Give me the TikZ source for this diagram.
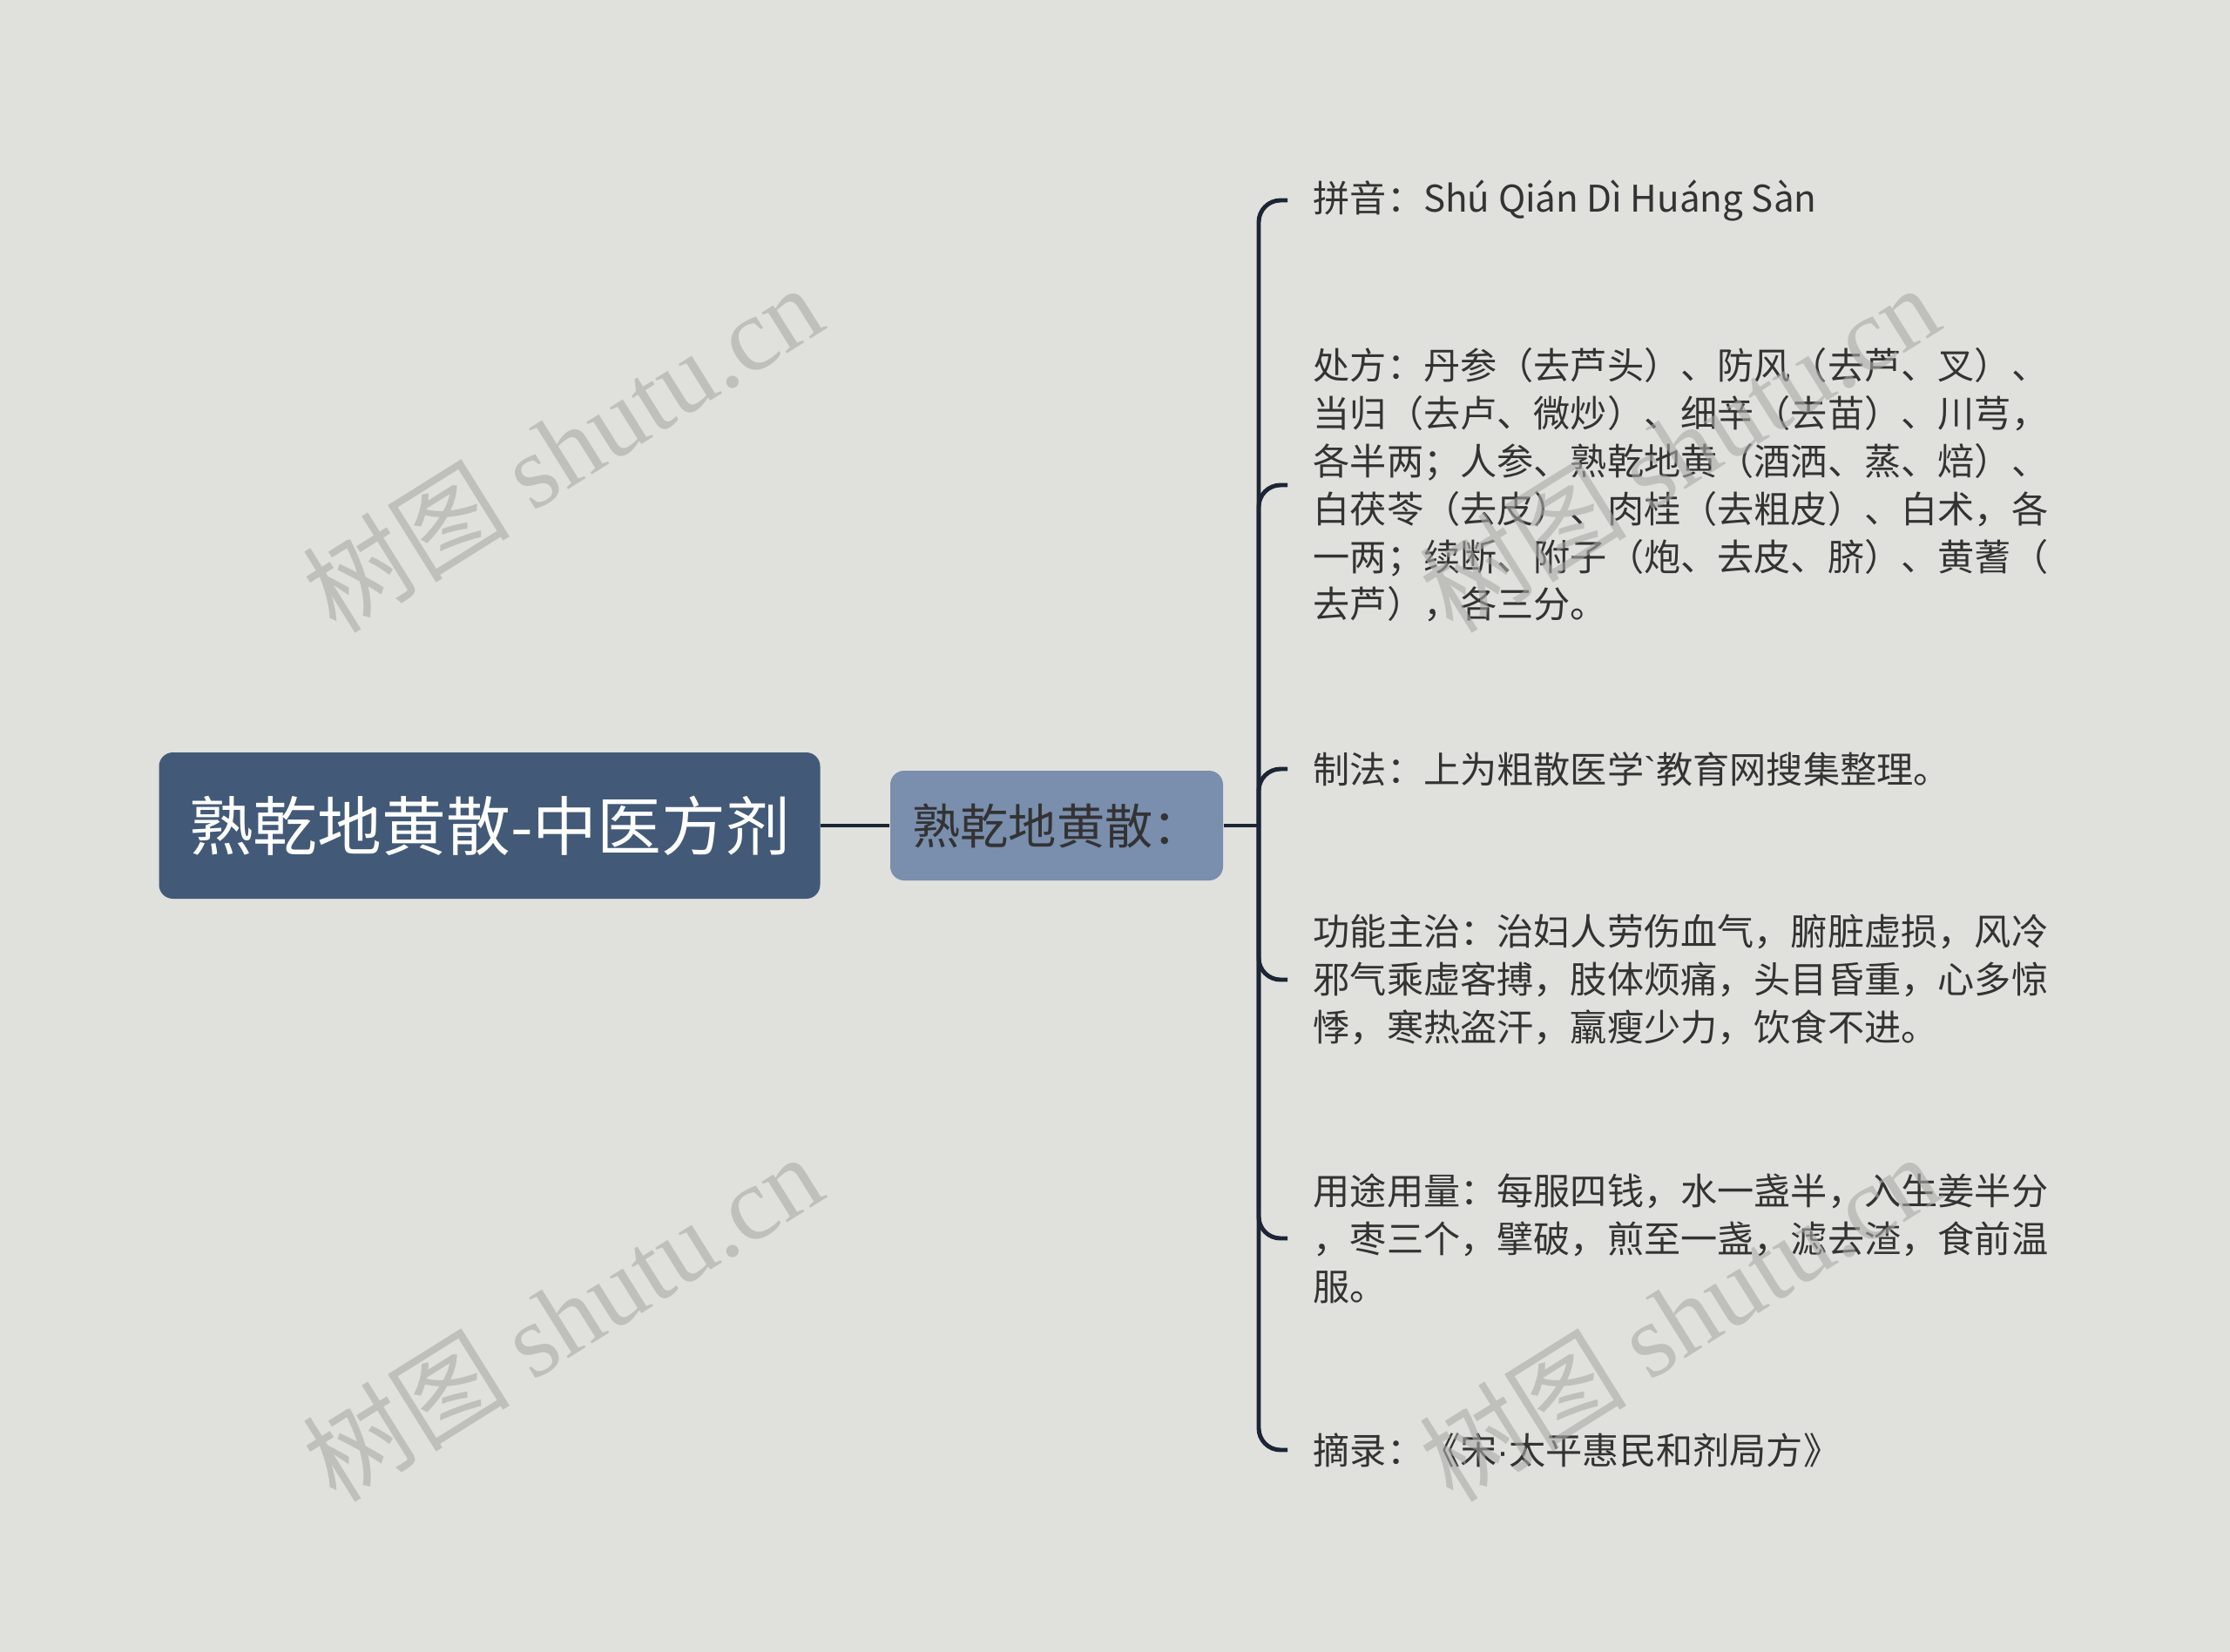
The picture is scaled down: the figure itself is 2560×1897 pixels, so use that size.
\documentclass[tikz,border=0pt]{standalone}
\usepackage{fontspec}
\setmainfont{Noto Sans CJK SC}
\newfontfamily\markfont{Liberation Serif}
\newfontfamily\latinfont{Liberation Sans}
\usetikzlibrary{positioning}

\definecolor{bgcol}{HTML}{E0E1DC}
\definecolor{rootcol}{HTML}{425A78}
\definecolor{subcol}{HTML}{7A8EAD}
\definecolor{linecol}{HTML}{1B2535}
\definecolor{txtcol}{HTML}{333333}
\definecolor{wmcol}{HTML}{A9A9A6}

\begin{document}
\begin{tikzpicture}[x=0.1mm, y=-0.1mm,
    rootbox/.style={fill=rootcol, rounded corners=1.6mm, text=white,
        minimum width=75.9mm, minimum height=16.8mm, font=\fontsize{21}{25}\selectfont},
    subbox/.style={fill=subcol, rounded corners=1.6mm, text=txtcol,
        minimum width=38.2mm, minimum height=12.6mm, font=\fontsize{15.7}{19}\selectfont},
    leaf/.style={anchor=west, align=left, text=txtcol, inner xsep=2.9mm, inner ysep=0pt,
        font=\fontsize{12}{15.6}\selectfont},
    link/.style={draw=linecol, line width=1.4pt, rounded corners=2.5mm},
    wmark/.style={rotate=32, text=wmcol, opacity=0.6, font=\fontsize{34}{38}\selectfont}]
    \fill[bgcol] (0,0) rectangle (2560,1897);
    \useasboundingbox (0,0) rectangle (2560,1897);

    % Root and topic
    \node[rootbox] (root) at (562,948) {熟乾地黄散-中医方剂};
    \node[subbox] (sub) at (1213,948) {熟乾地黄散：};
    \coordinate (trunk) at (1445,948);

    % Leaves
    \node[leaf] (pinyin) at (1478,230) {拼音：Shú Qián Dì Huáng Sàn};
    \node[leaf] (recipe) at (1478,557) {处方：丹参（去芦头）、防风（去芦、叉）、\\当归（去卢、微炒）、细辛（去苗）、川芎，\\各半两；人参、熟乾地黄（酒洒、蒸、焙）、\\白茯苓（去皮）、肉桂（去粗皮）、白术，各\\一两；续断、附子（炮、去皮、脐）、黄蓍（\\去芦），各三分。};
    \node[leaf] (method) at (1478,883) {制法：上为粗散医学{\latinfont\textasciigrave}教育网搜集整理。};
    \node[leaf] (usage) at (1478,1125) {功能主治：治妇人劳伤血气，腑脏虚损，风冷\\邪气乘虚客搏，肢体烦痛，头目昏重，心多惊\\悸，寒热盗汗，羸瘦少力，饮食不进。};
    \node[leaf] (dosage) at (1478,1422) {用途用量：每服四钱，水一盏半，入生姜半分\\，枣三个，擘破，煎至一盏，滤去渣，食前温\\服。};
    \node[leaf] (source) at (1478,1665) {摘录：《宋{\latinfont ·}太平惠民和剂局方》};

    % Connectors
    \draw[link] (root) -- (sub);
    \draw[link] (sub.east) -- (trunk);
    \foreach \n in {pinyin,recipe,method,usage,dosage,source}
        \draw[link] (trunk) |- (\n.west);

    % Watermarks
    \foreach \p in {(645,514),(645,1512),(1927,514),(1927,1512)}
        \node[wmark] at \p {树图 {\markfont shutu.cn}};
\end{tikzpicture}
\end{document}
